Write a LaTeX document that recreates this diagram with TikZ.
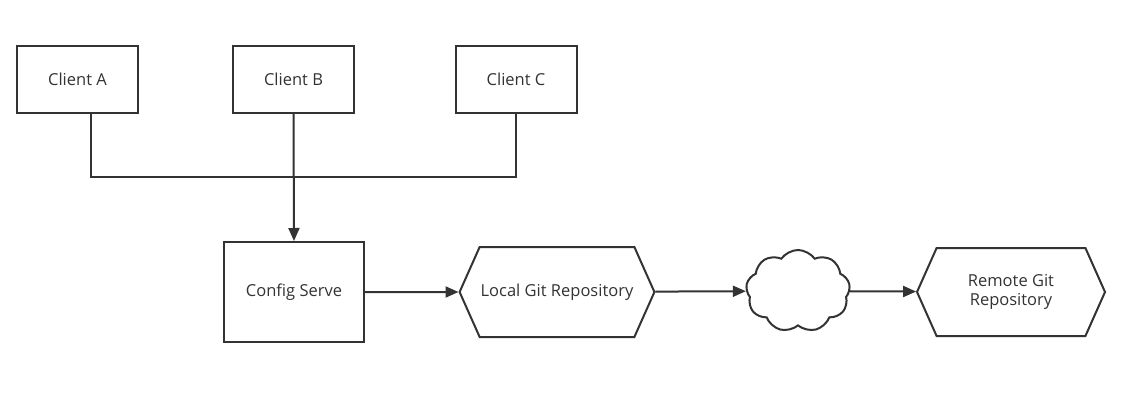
\documentclass[tikz,border=0pt]{standalone}
\usepackage{fontspec}
\setmainfont{Open Sans}
\usetikzlibrary{arrows.meta,shapes.symbols}
\definecolor{ink}{HTML}{333333}
\tikzset{
  box/.style={draw=ink, line width=2pt, minimum width=121pt, minimum height=67pt, text=ink, font=\fontsize{16.5}{19}\selectfont},
  repo/.style={signal, signal to=west and east, signal pointer angle=132, draw=ink, line width=2pt, inner sep=1pt, minimum width=190pt, minimum height=90pt, text=ink, align=center, font=\fontsize{16.5}{19}\selectfont},
  link/.style={draw=ink, line width=2pt, -{Triangle[length=13pt,width=11pt]}},
  bus/.style={draw=ink, line width=2pt}
}
\begin{document}
\begin{tikzpicture}[x=1pt, y=-1pt]
  \useasboundingbox (0,0) rectangle (1139,404);
  \node[box] (clienta) at (77.5,79.5) {Client A};
  \node[box] (clientb) at (293.5,79.5) {Client B};
  \node[box] (clientc) at (516,79.5) {Client C};
  \node[box, minimum width=140pt, minimum height=100pt] (server) at (294,292) {Config Serve};
  \node[repo] (local) at (557,292) {Local Git Repository};
  \node[cloud, cloud puffs=9, cloud puff arc=110, aspect=1.3, draw=ink, line width=2pt, minimum width=104pt, minimum height=82pt] (net) at (798,291) {};
  \node[repo, minimum width=188pt, minimum height=88pt] (remote) at (1011,292) {Remote Git\\Repository};

  \coordinate (join) at (294,177);
  \draw[bus] ([xshift=13.5pt]clienta.south) |- (join) -| (clientc.south);
  \draw[link] (clientb.south) -- (server.north);
  \draw[link] (server) -- (local);
  \draw[link] (local) -- (net);
  \draw[link] (net) -- (remote);
\end{tikzpicture}
\end{document}
